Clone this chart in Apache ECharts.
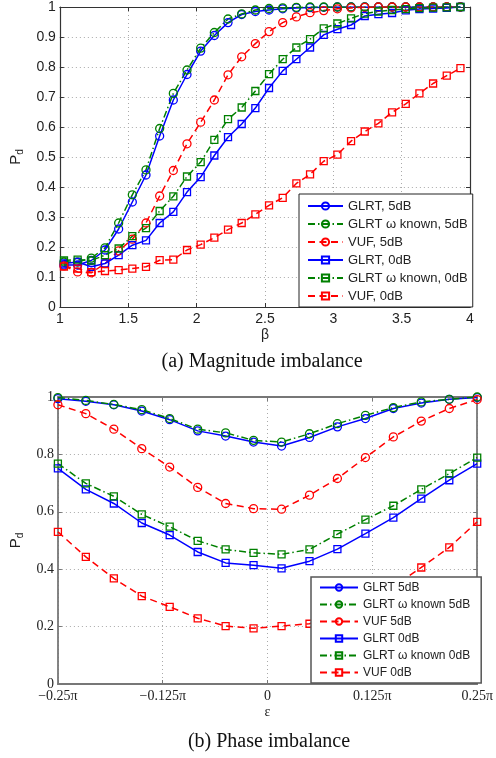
<!DOCTYPE html>
<html>
<head>
<meta charset="utf-8">
<script src="https://cdn.jsdelivr.net/npm/echarts@6/dist/echarts.min.js"></script>
<style>html,body{margin:0;padding:0;background:#fff}#c{width:496px;height:758px}</style>
</head>
<body>
<div id="c"></div>
<script>
// ---------- Data: (a) Magnitude imbalance ----------
var betaA = [1.03,1.13,1.23,1.33,1.43,1.53,1.63,1.73,1.83,1.93,2.03,2.13,2.23,2.33,2.43,2.53,2.63,2.73,2.83,2.93,3.03,3.13,3.23,3.33,3.43,3.53,3.63,3.73,3.83,3.93];
var glrt5A  = [0.14,0.14,0.155,0.19,0.26,0.35,0.44,0.57,0.69,0.775,0.853,0.905,0.948,0.975,0.985,0.99,0.994,0.997,0.998,0.999,1,1,1,1,1,1,1,1,1,1];
var glrtw5A = [0.15,0.15,0.163,0.197,0.28,0.374,0.457,0.595,0.712,0.79,0.863,0.915,0.96,0.977,0.99,0.995,0.997,0.999,1,1,1,1,1,1,1,1,1,1,1,1];
var vuf5A   = [0.137,0.117,0.114,0.145,0.187,0.226,0.28,0.37,0.455,0.544,0.616,0.69,0.774,0.834,0.878,0.918,0.948,0.967,0.981,0.988,0.994,0.997,0.999,1,1,1,1,1,1,1];
var glrt0A  = [0.145,0.15,0.134,0.145,0.173,0.206,0.222,0.28,0.317,0.383,0.433,0.505,0.566,0.61,0.663,0.73,0.787,0.826,0.865,0.907,0.926,0.94,0.97,0.976,0.98,0.989,0.993,0.995,0.997,1];
var glrtw0A = [0.155,0.158,0.155,0.173,0.195,0.236,0.263,0.32,0.369,0.435,0.483,0.557,0.626,0.665,0.72,0.776,0.826,0.865,0.893,0.929,0.945,0.962,0.978,0.985,0.99,0.993,0.996,0.998,0.999,1];
var vuf0A   = [0.135,0.128,0.116,0.12,0.123,0.128,0.134,0.156,0.158,0.19,0.208,0.231,0.258,0.28,0.309,0.339,0.364,0.412,0.442,0.486,0.508,0.553,0.585,0.612,0.649,0.677,0.712,0.745,0.771,0.796];
var namesA = ['GLRT, 5dB','GLRT \u03c9 known, 5dB','VUF, 5dB','GLRT, 0dB','GLRT \u03c9 known, 0dB','VUF, 0dB'];

// ---------- Data: (b) Phase imbalance (epsilon in units of pi) ----------
var epsB = [-0.25,-0.2167,-0.1833,-0.15,-0.1167,-0.0833,-0.05,-0.0167,0.0167,0.05,0.0833,0.1167,0.15,0.1833,0.2167,0.25];
var glrt5B  = [0.994,0.985,0.973,0.951,0.921,0.882,0.864,0.843,0.829,0.859,0.896,0.925,0.96,0.979,0.992,0.998];
var glrtw5B = [0.998,0.988,0.974,0.956,0.925,0.888,0.875,0.849,0.843,0.872,0.907,0.936,0.963,0.983,0.992,1.0];
var vuf5B   = [0.973,0.942,0.888,0.82,0.756,0.685,0.629,0.611,0.609,0.658,0.716,0.789,0.861,0.916,0.96,0.991];
var glrt0B  = [0.751,0.678,0.629,0.561,0.519,0.46,0.422,0.414,0.403,0.428,0.47,0.524,0.58,0.646,0.71,0.768];
var glrtw0B = [0.768,0.699,0.654,0.591,0.548,0.499,0.469,0.457,0.452,0.469,0.522,0.573,0.621,0.678,0.733,0.789];
var vuf0B   = [0.53,0.443,0.368,0.306,0.269,0.229,0.202,0.194,0.202,0.21,0.245,0.285,0.34,0.406,0.476,0.565];
var namesB = ['GLRT 5dB','GLRT \u03c9 known 5dB','VUF 5dB','GLRT 0dB','GLRT \u03c9 known 0dB','VUF 0dB'];

var xTicksB = [-0.25,-0.125,0,0.125,0.25];
var xTickLabelsB = ['\u22120.25\u03c0','\u22120.125\u03c0','0','0.125\u03c0','0.25\u03c0'];

var SANS = 'Liberation Sans', SERIF = 'Liberation Serif';
var BLUE = '#0000ff', GREEN = '#008000', RED = '#ff0000';

function zip(xs, ys){ return xs.map(function(x,i){ return [x, ys[i]]; }); }

function mkSeries(name, xs, ys, color, sym, dash, axisIdx, sz){
  return {
    type:'line', name:name, xAxisIndex:axisIdx, yAxisIndex:axisIdx,
    data: zip(xs, ys), color: color,
    symbol: sym, symbolSize: sz,
    lineStyle:{color:color, width:1.5, type:dash},
    itemStyle:{color:'rgba(255,255,255,0)', borderColor:color, borderWidth:1.3},
    emphasis:{disabled:true}, silent:true
  };
}
var DASHDOT = [7,3,1.5,3], DASH = [7,4.5];

function boxAxes(gridIndex, lineColor, lineWidth){
  return {
    xTop: {type:'value', gridIndex:gridIndex, position:'top', axisLine:{show:true, onZero:false, lineStyle:{color:lineColor, width:lineWidth}}, axisTick:{show:true, inside:true, length:4, lineStyle:{color:lineColor}}, axisLabel:{show:false}, splitLine:{show:false}},
    yRight: {type:'value', gridIndex:gridIndex, position:'right', axisLine:{show:true, onZero:false, lineStyle:{color:lineColor, width:lineWidth}}, axisTick:{show:true, inside:true, length:4, lineStyle:{color:lineColor}}, axisLabel:{show:false}, splitLine:{show:false}}
  };
}
var bA = boxAxes(0, '#333', 1.2), bB = boxAxes(1, '#777', 1.8);
var gridSplit = {show:true, lineStyle:{color:'#aaa', type:[1,3], width:1}};

var xA = {type:'value', gridIndex:0, min:1, max:4, interval:0.5, position:'bottom',
  axisLine:{show:true, onZero:false, lineStyle:{color:'#333', width:1.2}}, axisTick:{inside:true, length:4},
  axisLabel:{fontFamily:SANS, fontSize:14, color:'#222', margin:5},
  splitLine:gridSplit,
  name:'\u03b2', nameLocation:'middle', nameGap:21, nameTextStyle:{fontFamily:SANS, fontSize:14, color:'#222'}};
var xAT = Object.assign({min:1, max:4, interval:0.5}, bA.xTop);
var yA = {type:'value', gridIndex:0, min:0, max:1, interval:0.1, position:'left',
  axisLine:{show:true, onZero:false, lineStyle:{color:'#333', width:1.2}}, axisTick:{show:true, inside:true, length:4},
  axisLabel:{fontFamily:SANS, fontSize:14, color:'#222', margin:4},
  splitLine:gridSplit,
  name:'{p|P}{d|d}', nameLocation:'middle', nameGap:31, nameRotate:90,
  nameTextStyle:{color:'#222', rich:{p:{fontFamily:SANS, fontSize:15, lineHeight:20, color:'#222'}, d:{fontFamily:SANS, fontSize:10, lineHeight:10, verticalAlign:'bottom', color:'#222'}}}};
var yAR = Object.assign({min:0, max:1, interval:0.1}, bA.yRight);

var xB = {type:'value', gridIndex:1, min:-0.25, max:0.25, interval:0.125, position:'bottom',
  axisLine:{show:true, onZero:false, lineStyle:{color:'#777', width:1.8}}, axisTick:{inside:true, length:4, lineStyle:{color:'#777'}},
  axisLabel:{fontFamily:SERIF, fontSize:14, color:'#222', margin:5, formatter:function(v){
    for (var i=0;i<xTicksB.length;i++){ if (Math.abs(v-xTicksB[i])<1e-9) return xTickLabelsB[i]; } return ''; }},
  splitLine:gridSplit,
  name:'\u03b5', nameLocation:'middle', nameGap:21, nameTextStyle:{fontFamily:SERIF, fontSize:14, color:'#222'}};
var xBT = Object.assign({min:-0.25, max:0.25, interval:0.125}, bB.xTop);
var yB = {type:'value', gridIndex:1, min:0, max:1, interval:0.2, position:'left',
  axisLine:{show:true, onZero:false, lineStyle:{color:'#777', width:1.8}}, axisTick:{show:true, inside:true, length:4, lineStyle:{color:'#777'}},
  axisLabel:{fontFamily:SERIF, fontSize:14, color:'#222', margin:4},
  splitLine:gridSplit,
  name:'{p|P}{d|d}', nameLocation:'middle', nameGap:20, nameRotate:90,
  nameTextStyle:{color:'#222', rich:{p:{fontFamily:SANS, fontSize:15, lineHeight:20, color:'#222'}, d:{fontFamily:SANS, fontSize:10, lineHeight:10, verticalAlign:'bottom', color:'#222'}}}};
var yBR = Object.assign({min:0, max:1, interval:0.2}, bB.yRight);

var series = [
  mkSeries(namesA[0], betaA, glrt5A,  BLUE,  'circle', 'solid', 0, 8),
  mkSeries(namesA[1], betaA, glrtw5A, GREEN, 'circle', DASHDOT, 0, 8),
  mkSeries(namesA[2], betaA, vuf5A,   RED,   'circle', DASH, 0, 8),
  mkSeries(namesA[3], betaA, glrt0A,  BLUE,  'rect', 'solid', 0, 7),
  mkSeries(namesA[4], betaA, glrtw0A, GREEN, 'rect', DASHDOT, 0, 7),
  mkSeries(namesA[5], betaA, vuf0A,   RED,   'rect', DASH, 0, 7),
  mkSeries(namesB[0], epsB, glrt5B,  BLUE,  'circle', 'solid', 2, 8),
  mkSeries(namesB[1], epsB, glrtw5B, GREEN, 'circle', DASHDOT, 2, 8),
  mkSeries(namesB[2], epsB, vuf5B,   RED,   'circle', DASH, 2, 8),
  mkSeries(namesB[3], epsB, glrt0B,  BLUE,  'rect', 'solid', 2, 7),
  mkSeries(namesB[4], epsB, glrtw0B, GREEN, 'rect', DASHDOT, 2, 7),
  mkSeries(namesB[5], epsB, vuf0B,   RED,   'rect', DASH, 2, 7)
];

var chart = echarts.init(document.getElementById('c'), null, {renderer:'canvas'});
chart.setOption({
  animation:false,
  backgroundColor:'#fff',
  grid:[
    {left:57, top:6, width:413, height:301, containLabel:false},
    {left:57, top:397, width:424, height:287, containLabel:false}
  ],
  xAxis:[xA, xAT, xB, xBT],
  yAxis:[yA, yAR, yB, yBR],
  legend:[
    {data:namesA, orient:'vertical', left:299, top:194, itemWidth:35, itemHeight:9, itemGap:4,
     padding:[5,5,4,8], backgroundColor:'#fff', borderColor:'#222', borderWidth:1, borderRadius:0,
     selectedMode:false, textStyle:{fontFamily:SANS, fontSize:13, lineHeight:14, color:'#222'}},
    {data:namesB, orient:'vertical', left:311, top:577, itemWidth:38, itemHeight:8, itemGap:4,
     padding:[4,11,4,8], backgroundColor:'#fff', borderColor:'#555', borderWidth:1.5, borderRadius:0,
     selectedMode:false, textStyle:{fontFamily:SANS, fontSize:12, lineHeight:13, color:'#222'}}
  ],
  graphic:[
    {type:'text', x:262, y:362, style:{text:'(a) Magnitude imbalance', font:'20px "Liberation Serif"', fill:'#111', align:'center', verticalAlign:'middle'}},
    {type:'text', x:269, y:742, style:{text:'(b) Phase imbalance', font:'20px "Liberation Serif"', fill:'#111', align:'center', verticalAlign:'middle'}}
  ],
  series:series
});
</script>
</body>
</html>
